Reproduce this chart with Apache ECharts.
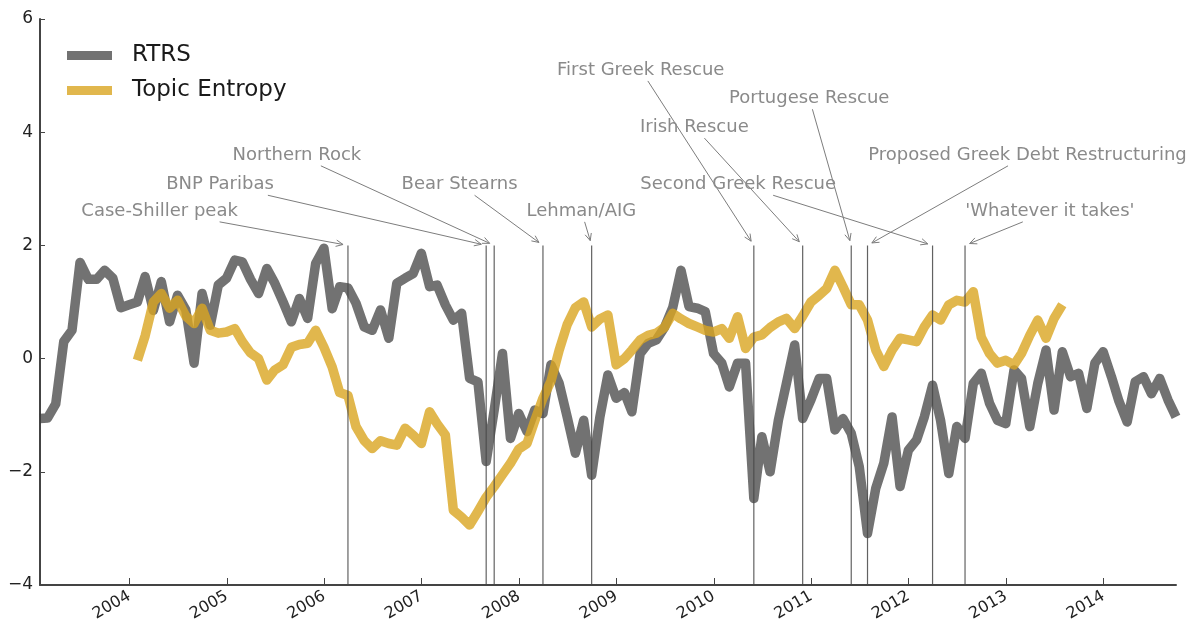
<!DOCTYPE html>
<html>
<head>
<meta charset="utf-8">
<script src="https://cdn.jsdelivr.net/npm/echarts@6/dist/echarts.min.js"></script>
<style>
html,body{margin:0;padding:0;background:#fff;}
#chart{width:1199px;height:631px;}
</style>
</head>
<body>
<div id="chart"></div>
<script>
// ---------- DATA ----------
const rtrsFirstMonth = '2003-01';
const rtrs = [
  -1.06,-1.05,-0.8,0.3,0.5,1.7,1.4,1.4,1.56,1.42,
  0.9,0.95,1.0,1.45,0.85,1.36,0.65,1.12,0.86,-0.08,
  1.15,0.59,1.3,1.42,1.74,1.71,1.4,1.15,1.59,1.33,
  1.0,0.65,1.06,0.71,1.68,1.95,0.88,1.27,1.25,0.98,
  0.56,0.5,0.86,0.36,1.33,1.42,1.5,1.86,1.27,1.3,
  0.95,0.68,0.8,-0.35,-0.41,-1.82,-0.91,0.09,-1.41,-0.97,
  -1.29,-0.91,-0.97,-0.11,-0.44,-1.03,-1.67,-1.09,-2.06,-1.03,
  -0.29,-0.7,-0.6,-0.94,0.09,0.27,0.33,0.55,0.9,1.56,
  0.92,0.89,0.83,0.09,-0.08,-0.5,-0.08,-0.08,-2.47,-1.38,
  -2.0,-1.09,-0.44,0.24,-1.06,-0.73,-0.35,-0.35,-1.26,-1.06,
  -1.32,-1.91,-3.09,-2.29,-1.85,-1.03,-2.26,-1.62,-1.44,-1.03,
  -0.47,-1.09,-2.03,-1.2,-1.41,-0.44,-0.26,-0.79,-1.09,-1.15,
  -0.2,-0.35,-1.2,-0.44,0.15,-0.91,0.12,-0.32,-0.26,-0.88,
  -0.08,0.12,-0.32,-0.75,-1.12,-0.41,-0.32,-0.62,-0.35,-0.73,
  -1.03
];
const topicFirstMonth = '2004-01';
const topicEntropy = [
  -0.03,0.4,1.0,1.15,0.89,1.03,0.75,0.62,0.89,0.5,
  0.45,0.47,0.53,0.3,0.1,0.0,-0.38,-0.2,-0.11,0.2,
  0.25,0.27,0.5,0.2,-0.15,-0.6,-0.65,-1.2,-1.45,-1.59,
  -1.45,-1.5,-1.53,-1.23,-1.35,-1.5,-0.94,-1.15,-1.35,-2.68,
  -2.8,-2.94,-2.7,-2.45,-2.26,-2.05,-1.85,-1.6,-1.5,-1.1,
  -0.7,-0.4,0.15,0.6,0.9,1.0,0.56,0.7,0.77,-0.11,
  0.0,0.15,0.33,0.41,0.45,0.55,0.8,0.7,0.62,0.56,
  0.5,0.47,0.53,0.36,0.74,0.18,0.38,0.42,0.55,0.65,
  0.71,0.53,0.75,1.0,1.12,1.24,1.56,1.27,0.95,0.95,
  0.68,0.15,-0.14,0.15,0.36,0.33,0.3,0.56,0.77,0.68,
  0.95,1.03,1.0,1.18,0.38,0.09,-0.08,-0.03,-0.11,0.09,
  0.41,0.68,0.36,0.71,0.95
];
const seriesNames = ['RTRS', 'Topic Entropy'];
const yearTicks = [2004,2005,2006,2007,2008,2009,2010,2011,2012,2013,2014];
const yMin = -4, yMax = 6, yStep = 2;

const eventMonths = ['2006-03','2007-08','2007-09','2008-03','2008-09','2010-05','2010-11','2011-05','2011-07','2012-03','2012-07'];
const eventLabels = ['Case-Shiller peak','BNP Paribas','Northern Rock','Bear Stearns','Lehman/AIG','First Greek Rescue','Irish Rescue','Portugese Rescue','Proposed Greek Debt Restructuring','Second Greek Rescue',"'Whatever it takes'"];
const eventLineTop = 2;
// annotation text centres (decimal year, value)
const labelYears  = [2004.31,2004.93,2005.72,2007.39,2008.64,2009.25,2009.80,2010.98,2013.22,2010.25,2013.45];
const labelValues = [2.61,3.08,3.60,3.08,2.61,5.10,4.09,4.60,3.60,3.08,2.61];

// ---------- HELPERS ----------
function monthEndYear(ym) {
  const [y, m] = ym.split('-').map(Number);
  const t = Date.UTC(y, m, 0), s = Date.UTC(y, 0, 1), e = Date.UTC(y + 1, 0, 1);
  return y + (t - s) / (e - s);
}
function addMonths(ym, k) {
  const [y, m] = ym.split('-').map(Number);
  const idx = y * 12 + (m - 1) + k;
  const yy = Math.floor(idx / 12), mm = idx % 12 + 1;
  return yy + '-' + (mm < 10 ? '0' : '') + mm;
}
const rtrsData = rtrs.map((v, i) => [monthEndYear(addMonths(rtrsFirstMonth, i)), v]);
const topicData = topicEntropy.map((v, i) => [monthEndYear(addMonths(topicFirstMonth, i)), v]);
const xMin = rtrsData[0][0], xMax = rtrsData[rtrsData.length - 1][0];
const eventData = eventMonths.map((m, i) => [monthEndYear(m), labelYears[i], labelValues[i]]);

const FONT = '"DejaVu Sans", "Liberation Sans", sans-serif';
const ANN_SIZE = 18;
const measureCtx = document.createElement('canvas').getContext('2d');
measureCtx.font = ANN_SIZE + 'px "DejaVu Sans"';

function renderEvent(params, api) {
  const i = params.dataIndex;
  const ex = api.value(0), tx = api.value(1), ty = api.value(2);
  const top = api.coord([ex, eventLineTop]);
  const bot = api.coord([ex, yMin]);
  const c = api.coord([tx, ty]);
  const label = eventLabels[i];
  const hw = measureCtx.measureText(label).width / 2 + 3, hh = 11;
  let dx = top[0] - c[0], dy = top[1] - c[1];
  const len = Math.sqrt(dx * dx + dy * dy);
  const ux = dx / len, uy = dy / len;
  const tX = Math.abs(ux) > 1e-6 ? hw / Math.abs(ux) : Infinity;
  const tY = Math.abs(uy) > 1e-6 ? hh / Math.abs(uy) : Infinity;
  const t0 = Math.min(tX, tY);
  const sx = c[0] + ux * t0, sy = c[1] + uy * t0;
  const shrink = 5;
  const ax = top[0] - ux * shrink, ay = top[1] - uy * shrink;
  const hl = 7, hwid = 3.2;
  const px = -uy, py = ux;
  const head = [
    [ax - ux * hl + px * hwid, ay - uy * hl + py * hwid],
    [ax, ay],
    [ax - ux * hl - px * hwid, ay - uy * hl - py * hwid]
  ];
  return {
    type: 'group',
    children: [
      { type: 'line', shape: { x1: top[0], y1: top[1], x2: bot[0], y2: bot[1] },
        style: { stroke: 'rgba(70,70,70,0.85)', lineWidth: 1.2 } },
      { type: 'line', shape: { x1: sx, y1: sy, x2: ax, y2: ay },
        style: { stroke: '#7d7d7d', lineWidth: 1 } },
      { type: 'polyline', shape: { points: head },
        style: { stroke: '#7d7d7d', lineWidth: 1, fill: null } },
      { type: 'text', x: c[0], y: c[1],
        style: { text: label, fill: '#8a8a8a', fontSize: ANN_SIZE, fontFamily: FONT,
                 align: 'center', verticalAlign: 'middle' } }
    ]
  };
}

const chart = echarts.init(document.getElementById('chart'), null, { renderer: 'canvas' });
const minus = v => (v < 0 ? '\u2212' + Math.abs(v) : String(v));
chart.setOption({
  animation: false,
  backgroundColor: '#ffffff',
  grid: { left: 40, right: 23, top: 19, bottom: 46 },
  legend: {
    orient: 'vertical', left: 62, top: 38,
    icon: 'rect', itemWidth: 45, itemHeight: 9, itemGap: 10,
    data: seriesNames,
    textStyle: { fontFamily: FONT, fontSize: 23, color: '#1a1a1a', lineHeight: 25, padding: [0, 0, 0, 15] }
  },
  xAxis: {
    type: 'value', min: xMin, max: xMax,
    axisLine: { show: true, onZero: false, lineStyle: { color: '#444', width: 2 } },
    axisTick: { show: true, inside: true, length: 7, customValues: yearTicks, lineStyle: { color: '#444' } },
    axisLabel: { customValues: yearTicks, rotate: 30, margin: 10, formatter: v => String(Math.round(v)),
                 fontFamily: FONT, fontSize: 16, color: '#222' },
    splitLine: { show: false }
  },
  yAxis: {
    type: 'value', min: yMin, max: yMax, interval: yStep,
    axisLine: { show: true, onZero: false, lineStyle: { color: '#444', width: 2 } },
    axisTick: { show: true, inside: true, length: 5, lineStyle: { color: '#444' } },
    axisLabel: { formatter: minus, margin: 7, fontFamily: FONT, fontSize: 17, color: '#222' },
    splitLine: { show: false }
  },
  series: [
    { name: seriesNames[0], type: 'line', data: rtrsData, showSymbol: false, symbol: 'none',
      color: 'rgba(60,60,60,0.72)',
      lineStyle: { width: 9.5, color: 'rgba(60,60,60,0.72)', join: 'round' }, z: 2 },
    { name: seriesNames[1], type: 'line', data: topicData, showSymbol: false, symbol: 'none',
      color: 'rgba(218,165,32,0.8)',
      lineStyle: { width: 9.5, color: 'rgba(218,165,32,0.8)', join: 'round' }, z: 3 },
    { name: 'events', type: 'custom', data: eventData, renderItem: renderEvent, clip: false,
      silent: true, z: 4, encode: { x: 0, y: 2 } }
  ]
});
</script>
</body>
</html>
